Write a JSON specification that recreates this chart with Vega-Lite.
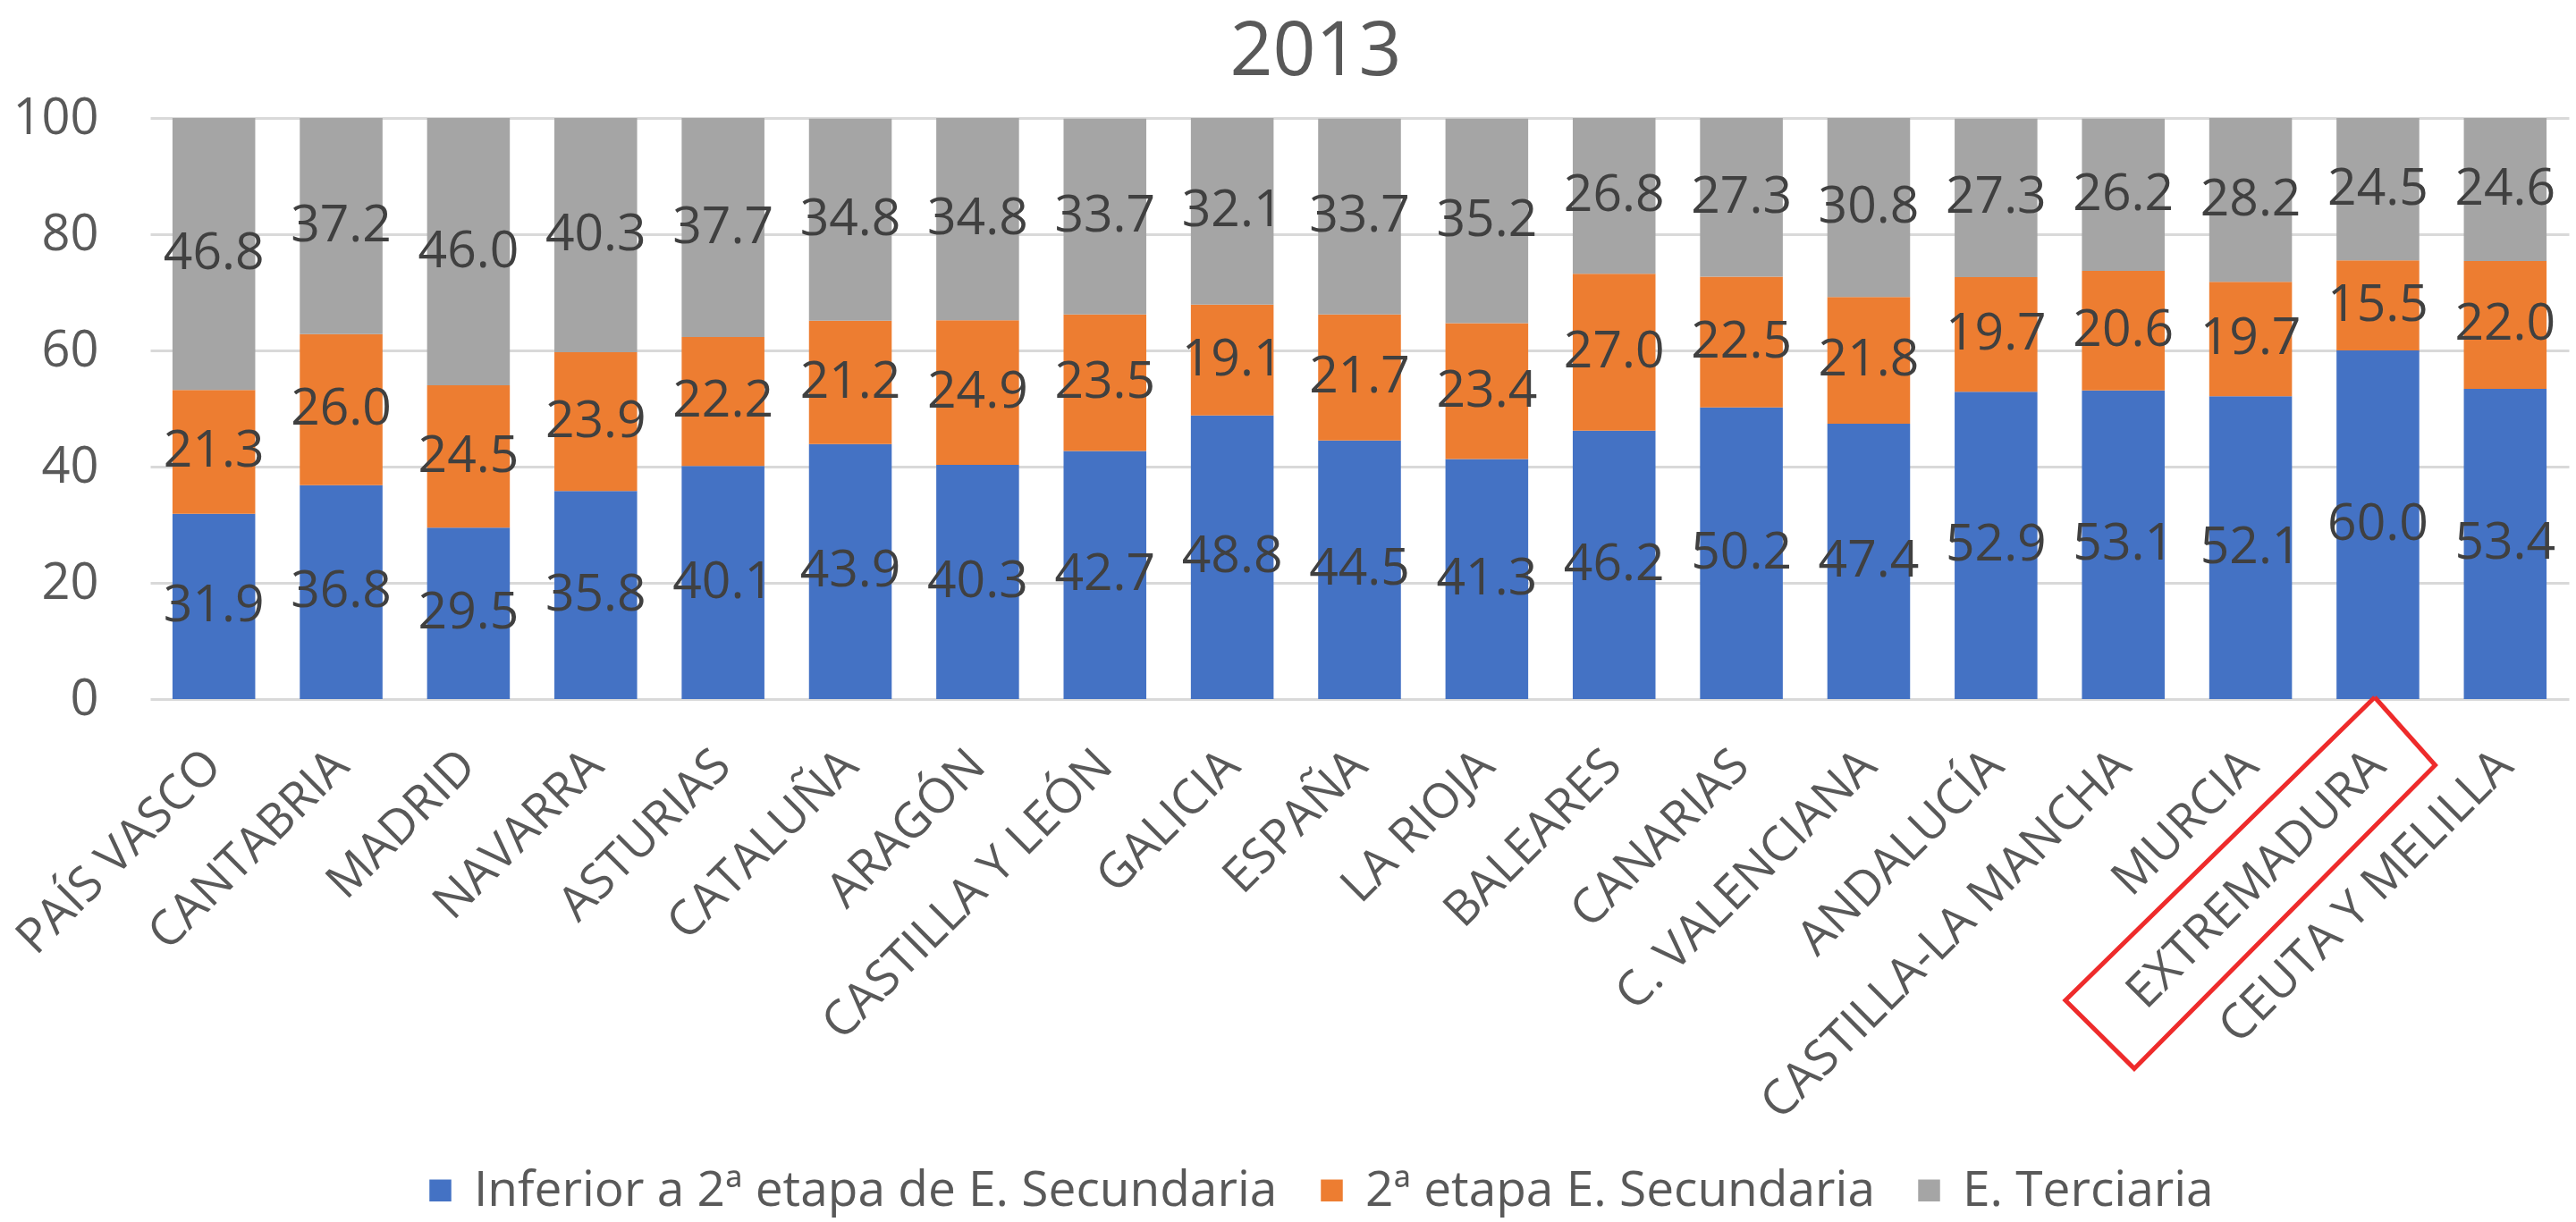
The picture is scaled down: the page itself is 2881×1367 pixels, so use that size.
{
  "$schema": "https://vega.github.io/schema/vega-lite/v6.json",
  "width": 2705,
  "height": 650,
  "autosize": {"type": "none"},
  "padding": {"left": 168, "top": 132, "right": 8, "bottom": 585},
  "background": "white",
  "config": {
    "font": "Open Sans",
    "view": {"stroke": null},
    "axisX": {"labelAngle": -45, "labelAlign": "right", "labelBaseline": "middle", "domain": false, "ticks": false, "labelPadding": 66, "labelFontSize": 54, "labelColor": "#595959", "grid": false, "labelOverlap": false, "labelLimit": 2000},
    "axisY": {"domain": false, "ticks": false, "labelPadding": 58, "labelFontSize": 56, "labelColor": "#595959", "gridColor": "#D9D9D9", "gridWidth": 3}
  },
  "title": {"text": "2013", "fontSize": 84, "fontWeight": "normal", "color": "#595959", "anchor": "middle", "offset": 2, "dx": -49},
  "datasets": {
    "edu": [
      {"r": "PAÍS VASCO", "a": 31.9, "b": 21.3, "c": 46.8},
      {"r": "CANTABRIA", "a": 36.8, "b": 26.0, "c": 37.2},
      {"r": "MADRID", "a": 29.5, "b": 24.5, "c": 46.0},
      {"r": "NAVARRA", "a": 35.8, "b": 23.9, "c": 40.3},
      {"r": "ASTURIAS", "a": 40.1, "b": 22.2, "c": 37.7},
      {"r": "CATALUÑA", "a": 43.9, "b": 21.2, "c": 34.8},
      {"r": "ARAGÓN", "a": 40.3, "b": 24.9, "c": 34.8},
      {"r": "CASTILLA Y LEÓN", "a": 42.7, "b": 23.5, "c": 33.7},
      {"r": "GALICIA", "a": 48.8, "b": 19.1, "c": 32.1},
      {"r": "ESPAÑA", "a": 44.5, "b": 21.7, "c": 33.7},
      {"r": "LA RIOJA", "a": 41.3, "b": 23.4, "c": 35.2},
      {"r": "BALEARES", "a": 46.2, "b": 27.0, "c": 26.8},
      {"r": "CANARIAS", "a": 50.2, "b": 22.5, "c": 27.3},
      {"r": "C. VALENCIANA", "a": 47.4, "b": 21.8, "c": 30.8},
      {"r": "ANDALUCÍA", "a": 52.9, "b": 19.7, "c": 27.3},
      {"r": "CASTILLA-LA MANCHA", "a": 53.1, "b": 20.6, "c": 26.2},
      {"r": "MURCIA", "a": 52.1, "b": 19.7, "c": 28.2},
      {"r": "EXTREMADURA", "a": 60.0, "b": 15.5, "c": 24.5},
      {"r": "CEUTA Y MELILLA", "a": 53.4, "b": 22.0, "c": 24.6}
    ],
    "box": [
      {"p": 0, "bx": 17.475, "by": 0.31},
      {"p": 1, "bx": 17.95, "by": -11.38},
      {"p": 2, "bx": 15.586, "by": -63.6},
      {"p": 3, "bx": 15.045, "by": -51.85},
      {"p": 4, "bx": 17.475, "by": 0.31}
    ]
  },
  "layer": [
    {
      "layer": [
        {
          "data": {"name": "edu"},
          "transform": [{"fold": ["a", "b", "c"], "as": ["n", "v"]}],
          "mark": {"type": "bar"},
          "encoding": {
            "x": {"field": "r", "type": "nominal", "sort": null, "scale": {"paddingInner": 0.35, "paddingOuter": 0.175}, "axis": {"title": null}},
            "y": {"field": "v", "type": "quantitative", "stack": "zero", "scale": {"domain": [0, 100], "nice": false}, "axis": {"title": null, "values": [0, 20, 40, 60, 80, 100]}},
            "color": {
              "field": "n", "type": "nominal",
              "scale": {"domain": ["a", "b", "c"], "range": ["#4472C4", "#ED7D31", "#A5A5A5"]},
              "legend": {"title": null, "orient": "none", "legendX": 297, "legendY": 1172, "direction": "horizontal", "symbolType": "square", "symbolSize": 600, "labelFontSize": 55, "labelColor": "#595959", "columnPadding": 33, "labelOffset": 10, "labelLimit": 2000, "symbolStrokeWidth": 0,
                "labelExpr": "datum.label == 'a' ? 'Inferior a 2ª etapa de E. Secundaria' : datum.label == 'b' ? '2ª etapa E. Secundaria' : 'E. Terciaria'"}
            },
            "order": {"field": "n"}
          }
        },
        {
          "data": {"name": "edu"},
          "transform": [
            {"fold": ["a", "b", "c"], "as": ["n", "v"]},
            {"stack": "v", "groupby": ["r"], "sort": [{"field": "n"}], "as": ["v0", "v1"]},
            {"fold": ["v0", "v1"], "as": ["k", "pos"]},
            {"aggregate": [{"op": "mean", "field": "pos", "as": "mid"}], "groupby": ["r", "n", "v"]}
          ],
          "mark": {"type": "text", "fontSize": 57, "color": "#404040", "baseline": "middle", "align": "center"},
          "encoding": {
            "x": {"field": "r", "type": "nominal", "sort": null, "axis": {"title": null}},
            "y": {"field": "mid", "type": "quantitative", "scale": {"domain": [0, 100], "nice": false}, "axis": {"title": null}},
            "text": {"field": "v", "type": "quantitative", "format": ".1f"}
          }
        }
      ]
    },
    {
      "data": {"name": "box"},
      "mark": {"type": "line", "color": "#EE2B2B", "strokeWidth": 5},
      "encoding": {
        "x": {"field": "bx", "type": "quantitative", "scale": {"domain": [0, 19], "nice": false, "zero": false}, "axis": null},
        "y": {"field": "by", "type": "quantitative", "scale": {"domain": [0, 100], "nice": false}, "axis": null},
        "order": {"field": "p"}
      }
    }
  ],
  "resolve": {"scale": {"x": "independent", "y": "independent"}}
}
